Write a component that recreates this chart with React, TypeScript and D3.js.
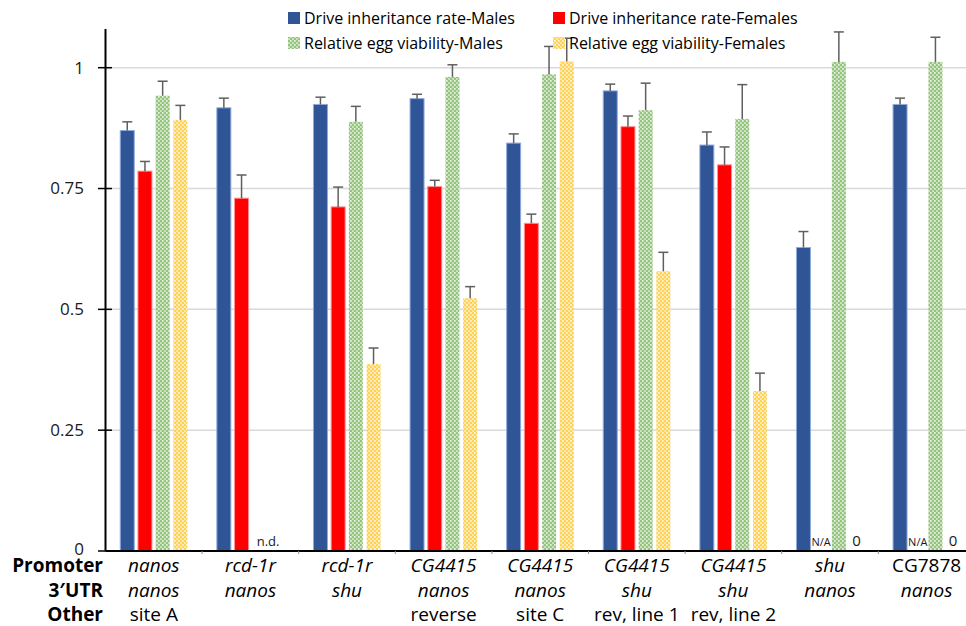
import React from "react";
import * as d3 from "d3";

// Construct descriptors (three label rows under each group)
const promoters = ["nanos", "rcd-1r", "rcd-1r", "CG4415", "CG4415", "CG4415", "CG4415", "shu", "CG7878"];
const promoterItalic = [true, true, true, true, true, true, true, true, false];
const utrs = ["nanos", "nanos", "shu", "nanos", "nanos", "shu", "shu", "nanos", "nanos"];
const others = ["site A", "", "", "reverse", "site C", "rev, line 1", "rev, line 2", "", ""];

// Series values (null = not shown) and upper error extents
const driveMales = [0.870, 0.917, 0.924, 0.936, 0.844, 0.952, 0.840, 0.628, 0.924];
const driveMalesErr = [0.018, 0.020, 0.015, 0.009, 0.019, 0.014, 0.027, 0.033, 0.013];
const driveFemales = [0.786, 0.730, 0.712, 0.754, 0.678, 0.878, 0.799, null, null];
const driveFemalesErr = [0.020, 0.048, 0.041, 0.013, 0.019, 0.022, 0.037, null, null];
const eggMales = [0.942, null, 0.888, 0.981, 0.986, 0.912, 0.894, 1.012, 1.012];
const eggMalesErr = [0.030, null, 0.032, 0.025, 0.058, 0.056, 0.071, 0.062, 0.051];
const eggFemales = [0.892, null, 0.387, 0.523, 1.013, 0.579, 0.331, 0, 0];
const eggFemalesErr = [0.030, null, 0.033, 0.024, 0.048, 0.039, 0.037, null, null];

const seriesNames = [
  "Drive inheritance rate-Males",
  "Drive inheritance rate-Females",
  "Relative egg viability-Males",
  "Relative egg viability-Females",
];
const yTicks = [0, 0.25, 0.5, 0.75, 1];
const yTickLabels = ["0", "0.25", "0.5", "0.75", "1"];

// Text annotations inside the plot: [group index, series slot, text]
const notes: [number, number, string][] = [
  [1, 2.5, "n.d."],
  [7, 1, "N/A"],
  [7, 3, "0"],
  [8, 1, "N/A"],
  [8, 3, "0"],
];

const FONT = "'Open Sans', 'Noto Sans', sans-serif";

export default function App() {
  const W = 966;
  const H = 626;
  const x0Left = 105.5;
  const groupW = 96.6;
  const groupIdx = promoters.map((_, i) => String(i));

  const x0 = d3
    .scaleBand<string>()
    .domain(groupIdx)
    .range([x0Left, x0Left + groupW * groupIdx.length])
    .paddingInner(0)
    .paddingOuter(0);
  const x1 = d3
    .scaleBand<string>()
    .domain(seriesNames)
    .range([0, x0.bandwidth()])
    .paddingInner(0.21)
    .paddingOuter(0.834);
  const y = d3.scaleLinear().domain([0, 1]).range([551, 67.7]);

  const series = [
    { name: seriesNames[0], values: driveMales, errs: driveMalesErr, fill: "#2f5597", stroke: "#8faadc" },
    { name: seriesNames[1], values: driveFemales, errs: driveFemalesErr, fill: "#ff0000", stroke: "#ff8f8f" },
    { name: seriesNames[2], values: eggMales, errs: eggMalesErr, fill: "url(#patGreen)", stroke: "none" },
    { name: seriesNames[3], values: eggFemales, errs: eggFemalesErr, fill: "url(#patYellow)", stroke: "none" },
  ];

  const bw = x1.bandwidth();
  const step = x1.step();
  const slotCenter = (g: number, s: number) =>
    (x0(String(g)) as number) + (x1(seriesNames[0]) as number) + s * step + bw / 2;

  const plotRight = W + 20;
  const legend = [
    { x: 288, y: 12, s: 0 },
    { x: 553, y: 12, s: 1 },
    { x: 288, y: 37, s: 2 },
    { x: 553, y: 37, s: 3 },
  ];

  return (
    <svg
      width={W}
      height={H}
      style={{ position: "absolute", left: 0, top: 0, background: "#fff" }}
      fontFamily={FONT}
    >
      <defs>
        <pattern id="patGreen" width="4" height="4" patternUnits="userSpaceOnUse">
          <rect width="4" height="4" fill="#c9e2b8" />
          <rect x="0" y="0" width="2" height="2" fill="#93c47d" />
          <rect x="2" y="2" width="2" height="2" fill="#93c47d" />
          <rect x="2" y="0" width="1" height="1" fill="#ffffff" opacity="0.7" />
        </pattern>
        <pattern id="patYellow" width="4" height="4" patternUnits="userSpaceOnUse">
          <rect width="4" height="4" fill="#ffe8a3" />
          <rect x="0" y="0" width="2" height="2" fill="#ffd34f" />
          <rect x="2" y="2" width="2" height="2" fill="#ffd34f" />
          <rect x="2" y="0" width="1" height="1" fill="#ffffff" opacity="0.7" />
        </pattern>
      </defs>

      {/* gridlines */}
      {yTicks.slice(1).map((t) => (
        <line key={t} x1={x0Left} x2={plotRight} y1={y(t)} y2={y(t)} stroke="#d9d9d9" strokeWidth={1.5} />
      ))}

      {/* bars */}
      {series.map((s) =>
        s.values.map((v, g) =>
          v == null || v === 0 ? null : (
            <rect
              key={s.name + g}
              x={(x0(String(g)) as number) + (x1(s.name) as number)}
              y={y(v)}
              width={bw}
              height={y(0) - y(v)}
              fill={s.fill}
              stroke={s.stroke}
              strokeWidth={s.stroke === "none" ? 0 : 1}
            />
          )
        )
      )}

      {/* error bars (upper only) */}
      {series.map((s) =>
        s.values.map((v, g) => {
          const e = s.errs[g];
          if (v == null || e == null || v === 0) return null;
          const cx = (x0(String(g)) as number) + (x1(s.name) as number) + bw / 2;
          return (
            <g key={"e" + s.name + g} stroke="#5f5f5f" strokeWidth={1.5}>
              <line x1={cx} x2={cx} y1={y(v)} y2={y(v + e)} />
              <line x1={cx - 5} x2={cx + 5} y1={y(v + e)} y2={y(v + e)} />
            </g>
          );
        })
      )}

      {/* annotations */}
      {notes.map(([g, s, t], i) => (
        <text
          key={"n" + i}
          x={slotCenter(g, s)}
          y={546}
          textAnchor="middle"
          fontSize={t === "0" ? 15 : t === "N/A" ? 11 : 13}
          fill="#1a1a1a"
        >
          {t}
        </text>
      ))}

      {/* y axis */}
      <line x1={x0Left} x2={x0Left} y1={29} y2={y(0)} stroke="#000" strokeWidth={2} />
      {yTicks.map((t, i) => (
        <g key={"yt" + t}>
          <line x1={98} x2={112} y1={y(t)} y2={y(t)} stroke="#000" strokeWidth={1.5} />
          <text x={84} y={y(t) - (t === 0 ? 2 : 0)} dy="0.35em" textAnchor="end" fontSize={17} fill="#1a1a1a">
            {yTickLabels[i]}
          </text>
        </g>
      ))}

      {/* x axis */}
      <line x1={x0Left} x2={plotRight} y1={y(0)} y2={y(0)} stroke="#000" strokeWidth={2} />
      {groupIdx.map((g) => (
        <line
          key={"xt" + g}
          x1={(x0(g) as number) + groupW}
          x2={(x0(g) as number) + groupW}
          y1={y(0)}
          y2={y(0) + 3}
          stroke="#8c8c8c"
          strokeWidth={1}
        />
      ))}

      {/* row headings */}
      {["Promoter", "3\u2032UTR", "Other"].map((t, i) => (
        <text key={t} x={103} y={572 + i * 24.5} textAnchor="end" fontSize={19} fontWeight="bold" fill="#000">
          {t}
        </text>
      ))}

      {/* group labels */}
      {groupIdx.map((g, i) => {
        const cx = (x0(g) as number) + groupW / 2;
        return (
          <g key={"gl" + g} fontSize={19} fill="#000" textAnchor="middle">
            <text x={cx} y={572} fontStyle={promoterItalic[i] ? "italic" : "normal"}>
              {promoters[i]}
            </text>
            <text x={cx} y={596.5} fontStyle="italic">
              {utrs[i]}
            </text>
            <text x={cx} y={621}>{others[i]}</text>
          </g>
        );
      })}

      {/* legend */}
      {legend.map((l) => (
        <g key={"lg" + l.s}>
          <rect x={l.x} y={l.y} width={12} height={12} fill={series[l.s].fill} />
          <text x={l.x + 16} y={l.y + 6} dy="0.35em" fontSize={16} fill="#000">
            {seriesNames[l.s]}
          </text>
        </g>
      ))}
    </svg>
  );
}
